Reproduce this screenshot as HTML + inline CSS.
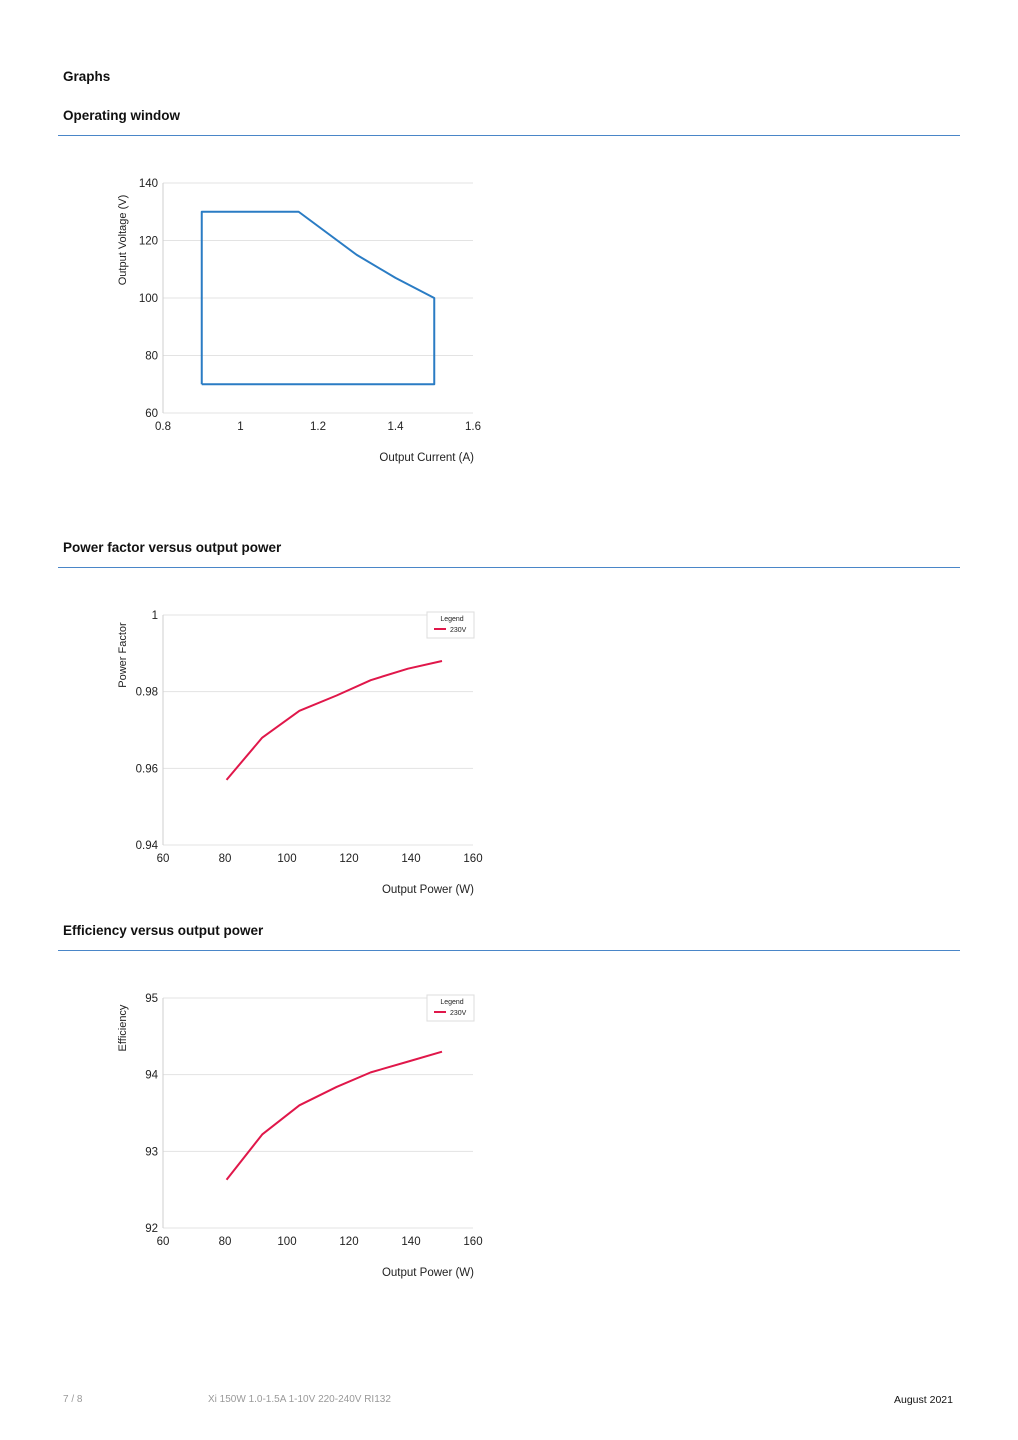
<!DOCTYPE html>
<html><head><meta charset="utf-8">
<style>
html,body{margin:0;padding:0;background:#fff;}
body{width:1018px;height:1440px;position:relative;font-family:"Liberation Sans",sans-serif;overflow:hidden;}
.h{position:absolute;left:63px;font-weight:bold;font-size:13.5px;color:#111;}
.rule{position:absolute;left:58px;width:902px;height:1px;background:#4a86c8;}
.foot{position:absolute;top:1394px;font-size:10px;color:#999;}
svg{position:absolute;left:0;top:0;}
svg text{font-family:"Liberation Sans",sans-serif;fill:#222;}
</style></head><body>
<div class="h" style="top:69px">Graphs</div>
<div class="h" style="top:108px">Operating window</div>
<div class="rule" style="top:135px"></div>
<div class="h" style="top:540px">Power factor versus output power</div>
<div class="rule" style="top:567px"></div>
<div class="h" style="top:923px">Efficiency versus output power</div>
<div class="rule" style="top:950px"></div>
<div class="foot" style="left:63px">7 / 8</div>
<div class="foot" style="left:208px">Xi 150W 1.0-1.5A 1-10V 220-240V RI132</div>
<div class="foot" style="left:894px;color:#111;font-size:10.5px">August 2021</div>
<svg id="s" width="1018" height="1440"></svg>
<script>
const owCurrent=[0.9,0.9,1.15,1.3,1.4,1.5,1.5,0.9];
const owVoltage=[70,130,130,115,107,100,70,70];
const owXTicks=[0.8,1,1.2,1.4,1.6];
const owYTicks=[60,80,100,120,140];
const pfPower=[80.5,92,104,116,127,139,150];
const pfValues=[0.957,0.968,0.975,0.979,0.983,0.986,0.988];
const pfXTicks=[60,80,100,120,140,160];
const pfYTicks=[0.94,0.96,0.98,1];
const effPower=[80.5,92,104,116,127,139,150];
const effValues=[92.63,93.22,93.6,93.84,94.03,94.17,94.3];
const effXTicks=[60,80,100,120,140,160];
const effYTicks=[92,93,94,95];

const NS='http://www.w3.org/2000/svg';
const svg=document.getElementById('s');
function mk(tag,attrs,parent){const e=document.createElementNS(NS,tag);for(const k in attrs)e.setAttribute(k,attrs[k]);(parent||svg).appendChild(e);return e;}
function chart(o){
  const g=mk('g',{});
  
  
  const x0=163,x1=473,yb=o.yb,yt=o.yb-230;
  const xmin=o.xt[0],xmax=o.xt[o.xt.length-1],ymin=o.yt[0],ymax=o.yt[o.yt.length-1];
  const X=v=>x0+(v-xmin)/(xmax-xmin)*(x1-x0);
  const Y=v=>yb-(v-ymin)/(ymax-ymin)*(yb-yt);
  o.yt.forEach(v=>{
    const l=mk('line',{x1:x0,x2:x1,y1:Y(v),y2:Y(v),stroke:'#e3e3e3','stroke-width':1},g);
    
    
    const t=mk('text',{x:158,y:Y(v)+4,'text-anchor':'end','font-size':11.5},g);
    t.textContent=o.fmtY?o.fmtY(v):v;
    
    
  });
  const ax=mk('line',{x1:x0,x2:x0,y1:yt,y2:yb,stroke:'#cfcfcf'},g);
  
  
  o.xt.forEach(v=>{
    const t=mk('text',{x:X(v),y:yb+17,'text-anchor':'middle','font-size':11.5},g);
    t.textContent=v;
    
    
  });
  const xl=mk('text',{x:474,y:yb+48,'text-anchor':'end','font-size':11.5},g);
  xl.textContent=o.xlabel;
  
  
  const cy=yt+(o.ylabelOff||55);
  const yl=mk('text',{x:126,y:cy,'text-anchor':'middle','font-size':11,transform:`rotate(-90 126 ${cy})`},g);
  yl.textContent=o.ylabel;
  
  
  const pts=o.xs.map((v,i)=>X(v)+','+Y(o.ys[i])).join(' ');
  const p=mk('polyline',{points:pts,fill:'none',stroke:o.color,'stroke-width':2,'stroke-linejoin':'round'},g);
  
  
  if(o.legend){
    const lg=mk('g',{},g);
    
    
    mk('rect',{x:427,y:yt-3,width:47,height:26,fill:'#fff',stroke:'#ddd'},lg);
    const t1=mk('text',{x:452,y:yt+6,'text-anchor':'middle','font-size':7},lg);t1.textContent='Legend';
    mk('line',{x1:434,x2:446,y1:yt+14,y2:yt+14,stroke:o.color,'stroke-width':2},lg);
    const t2=mk('text',{x:450,y:yt+17,'font-size':7},lg);t2.textContent='230V';
  }
}
chart({name:'operating-window-chart',yb:413,xt:owXTicks,yt:owYTicks,xs:owCurrent,ys:owVoltage,color:'#2a7cc4',xlabel:'Output Current (A)',ylabel:'Output Voltage (V)',ylabelOff:57});
chart({name:'power-factor-chart',yb:845,xt:pfXTicks,yt:pfYTicks,xs:pfPower,ys:pfValues,color:'#e0174a',xlabel:'Output Power (W)',ylabel:'Power Factor',legend:true,ylabelOff:40,fmtY:v=>v===1?'1':v.toFixed(2)});
chart({name:'efficiency-chart',yb:1228,xt:effXTicks,yt:effYTicks,xs:effPower,ys:effValues,color:'#e0174a',xlabel:'Output Power (W)',ylabel:'Efficiency',legend:true,ylabelOff:30});
</script>
</body></html>
